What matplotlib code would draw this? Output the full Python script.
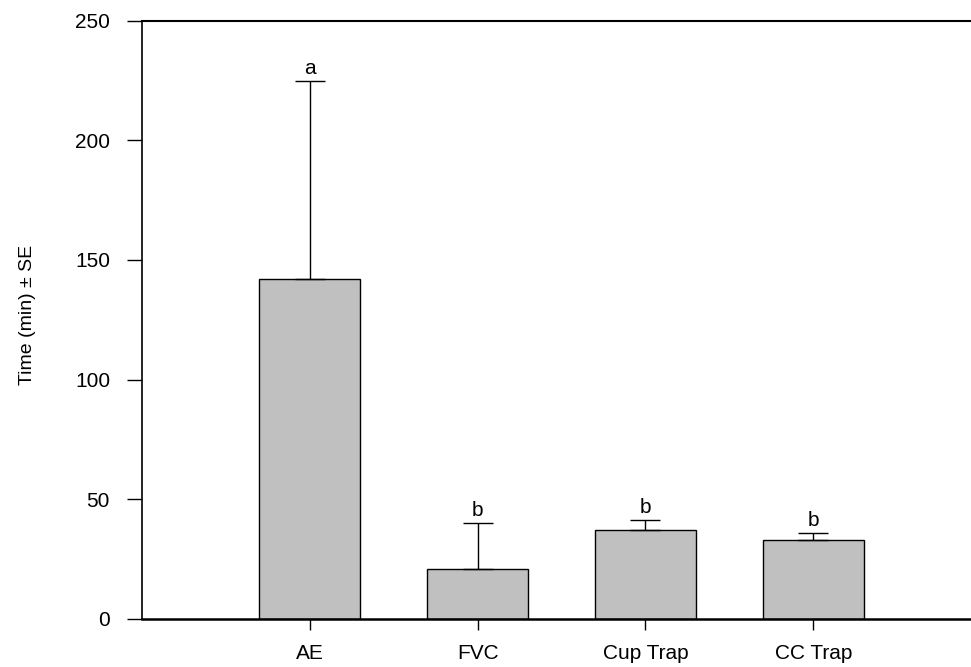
import matplotlib
matplotlib.use("Agg")
import matplotlib.pyplot as plt

plt.rcParams['font.family'] = ['Liberation Sans', 'DejaVu Sans']

# values
groups = ["AE", "FVC", "Cup Trap", "CC Trap"]
means = [142, 21, 37, 33]
se = [83, 19.3, 4.3, 3]
letters = ["a", "b", "b", "b"]

fig = plt.figure(figsize=(9.71, 6.67), dpi=100)
ax = fig.add_axes([0.1462, 0.072, 0.8538, 0.897])

x = list(range(len(groups)))
ax.bar(x, means, width=0.6, color="#c0c0c0", edgecolor="black", linewidth=1.0, zorder=2)
ax.errorbar(x, means, yerr=[[0] * len(se), se], fmt="none", ecolor="black",
            elinewidth=1.0, capsize=11, capthick=1.0, zorder=3)

for xi, m, s, lab in zip(x, means, se, letters):
    ax.annotate(lab, (xi, m + s), xytext=(0, 2), textcoords="offset points",
                ha="center", va="bottom", fontsize=15)

ax.set_xlim(-1.0, 3.94)
ax.set_ylim(0, 250)
ax.set_yticks([0, 50, 100, 150, 200, 250])
ax.set_xticks(x)
ax.set_xticklabels(groups)
ax.set_ylabel("Time (min) ± SE", fontsize=14)
ax.yaxis.set_label_coords(-0.128, 0.508)

ax.spines["right"].set_visible(False)
ax.spines["top"].set_linewidth(1.5)
ax.spines["bottom"].set_linewidth(1.8)
ax.spines["left"].set_linewidth(1.2)
ax.tick_params(axis="y", direction="out", length=11, width=1.0, pad=12, labelsize=15)
ax.tick_params(axis="x", direction="out", length=8, width=1.0, pad=10, labelsize=15)

fig.savefig("out.png", dpi=100)
